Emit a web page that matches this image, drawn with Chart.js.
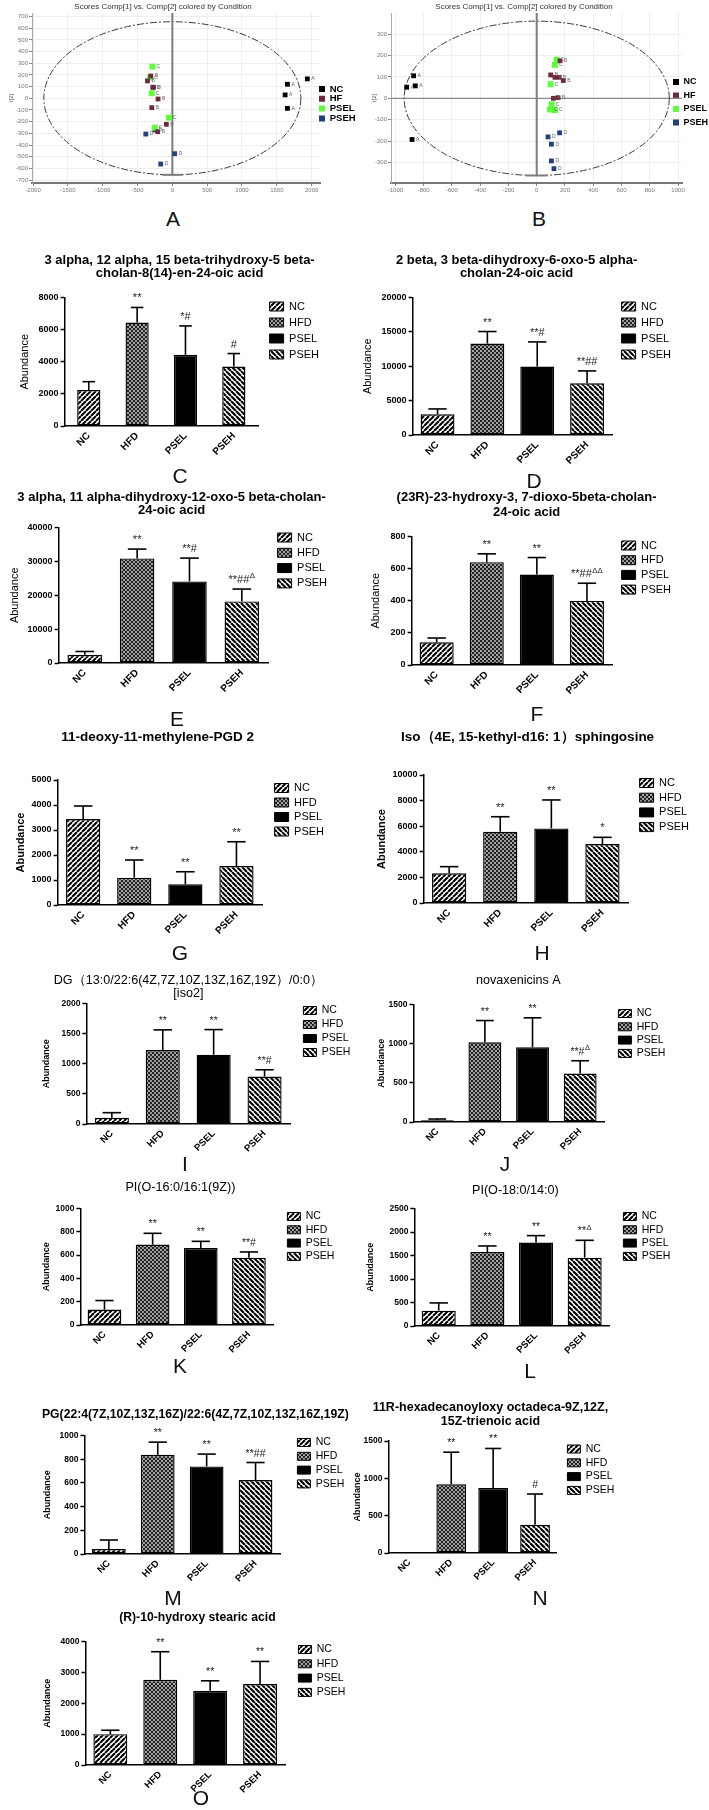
<!DOCTYPE html>
<html><head><meta charset="utf-8">
<script src="https://cdn.jsdelivr.net/npm/chart.js@4.4.1/dist/chart.umd.min.js"></script>
<style>
html,body{margin:0;padding:0;background:#fff;}
body{width:709px;height:1810px;position:relative;overflow:hidden;font-family:"Liberation Sans",Arial,sans-serif;}
canvas{position:absolute;}
.lt{position:absolute;width:40px;text-align:center;font-size:21px;line-height:21px;color:#111;font-family:"Liberation Sans",Arial,sans-serif;}
</style></head><body>
<script>
// ================= DATA =================
const groups = ['NC', 'HFD', 'PSEL', 'PSEH'];
const scoreGroups = ['NC', 'HF', 'PSEL', 'PSEH'];
const scoreTags = ['A', 'B', 'C', 'D'];
const scoreTitle = 'Scores Comp[1] vs. Comp[2] colored by Condition';

// Panel A score plot (t[1], t[2])
const aNC   = [[1652,120],[1619,29],[1652,-86],[1938,166]];
const aHF   = [[-310,191],[-357,149],[-281,94],[-205,-6],[-295,-80],[-86,-223],[-210,-286]];
const aPSEL = [[-286,271],[-319,177],[-295,43],[-48,-166],[-252,-251]];
const aPSEH = [[-271,94],[-381,-306],[-252,-271],[33,-474],[-167,-563]];
const aXTicks = [-2000,-1500,-1000,-500,0,500,1000,1500,2000];
const aYTicks = [-700,-600,-500,-400,-300,-200,-100,0,100,200,300,400,500,600,700];
const aEllipse = [1845, 655];

// Panel B score plot
const bNC   = [[-871,105],[-859,58],[-920,52],[-882,-192]];
const bHF   = [[165,175],[99,109],[129,98],[158,98],[188,83],[118,0],[151,3]];
const bPSEL = [[141,180],[129,156],[99,66],[106,-28],[94,-52],[129,-55]];
const bPSEH = [[162,-161],[80,-180],[104,-214],[104,-292],[122,-328]];
const bXTicks = [-1000,-800,-600,-400,-200,0,200,400,600,800,1000];
const bYTicks = [-300,-200,-100,0,100,200,300];
const bEllipse = [938, 360];

// Bar panels: mean, SD, significance marks, y ticks
const cTitle = ['3 alpha, 12 alpha, 15 beta-trihydroxy-5 beta-', 'cholan-8(14)-en-24-oic acid'];
const cMean = [2240, 6440, 4430, 3700];
const cSD   = [520, 940, 1800, 810];
const cSig  = ['', '**', '*#', '#'];
const cTicks = [0, 2000, 4000, 6000, 8000];

const dTitle = ['2 beta, 3 beta-dihydroxy-6-oxo-5 alpha-', 'cholan-24-oic acid'];
const dMean = [3010, 13300, 9950, 7520];
const dSD   = [780, 1750, 3590, 1800];
const dSig  = ['', '**', '**#', '**##'];
const dTicks = [0, 5000, 10000, 15000, 20000];

const eTitle = ['3 alpha, 11 alpha-dihydroxy-12-oxo-5 beta-cholan-', '24-oic acid'];
const eMean = [2400, 30880, 24090, 18190];
const eSD   = [1000, 2750, 6880, 3640];
const eSig  = ['', '**', '**#', '**##^Δ'];
const eTicks = [0, 10000, 20000, 30000, 40000];

const fTitle = ['(23R)-23-hydroxy-3, 7-dioxo-5beta-cholan-', '24-oic acid'];
const fMean = [141, 640, 563, 399];
const fSD   = [27, 52, 106, 110];
const fSig  = ['', '**', '**', '**##^ΔΔ'];
const fTicks = [0, 200, 400, 600, 800];

const gTitle = ['11-deoxy-11-methylene-PGD 2'];
const gMean = [3440, 1090, 826, 1560];
const gSD   = [520, 710, 504, 970];
const gSig  = ['', '**', '**', '**'];
const gTicks = [0, 1000, 2000, 3000, 4000, 5000];

const hTitle = ['Iso（4E, 15-kethyl-d16: 1）sphingosine'];
const hMean = [2320, 5570, 5830, 4610];
const hSD   = [520, 1170, 2220, 520];
const hSig  = ['', '**', '**', '*'];
const hTicks = [0, 2000, 4000, 6000, 8000, 10000];

const iTitle = ['DG（13:0/22:6(4Z,7Z,10Z,13Z,16Z,19Z）/0:0）', '[iso2]'];
const iMean = [105, 1228, 1150, 788];
const iSD   = [83, 334, 417, 112];
const iSig  = ['', '**', '**', '**#'];
const iTicks = [0, 500, 1000, 1500, 2000];

const jTitle = ['novaxenicins A'];
const jMean = [22, 1017, 953, 619];
const jSD   = [16, 278, 377, 163];
const jSig  = ['', '**', '**', '**#^Δ'];
const jTicks = [0, 500, 1000, 1500];

const kTitle = ['PI(O-16:0/16:1(9Z))'];
const kMean = [132, 690, 661, 578];
const kSD   = [78, 97, 57, 49];
const kSig  = ['', '**', '**', '**#'];
const kTicks = [0, 200, 400, 600, 800, 1000];

const lTitle = ['PI(O-18:0/14:0)'];
const lMean = [327, 1575, 1774, 1453];
const lSD   = [164, 128, 149, 370];
const lSig  = ['', '**', '**', '**^Δ'];
const lTicks = [0, 500, 1000, 1500, 2000, 2500];

const mTitle = ['PG(22:4(7Z,10Z,13Z,16Z)/22:6(4Z,7Z,10Z,13Z,16Z,19Z)'];
const mMean = [42, 837, 739, 624];
const mSD   = [76, 107, 104, 148];
const mSig  = ['', '**', '**', '**##'];
const mTicks = [0, 200, 400, 600, 800, 1000];

const nTitle = ['11R-hexadecanoyloxy octadeca-9Z,12Z,', '15Z-trienoic acid'];
const nMean = [0, 920, 870, 380];
const nSD   = [0, 430, 530, 410];
const nSig  = ['', '**', '**', '#'];
const nTicks = [0, 500, 1000, 1500];

const oTitle = ['(R)-10-hydroxy stearic acid'];
const oMean = [997, 2760, 2402, 2620];
const oSD   = [129, 909, 325, 734];
const oSig  = ['', '**', '**', '**'];
const oTicks = [0, 1000, 2000, 3000, 4000];

// ================= STYLE / LAYOUT =================
const FONT = '"Liberation Sans", Arial, sans-serif';
const scoreColors = ['#000000', '#6e2a3a', '#5dff3c', '#233f7c'];

function makePattern(kind) {
  if (kind === 'solid') return '#000000';
  const s = kind === 'cross' ? 4 : 5;
  const c = document.createElement('canvas'); c.width = s; c.height = s;
  const g = c.getContext('2d');
  g.fillStyle = '#ffffff'; g.fillRect(0, 0, s, s);
  g.strokeStyle = '#000000';
  const fwd = () => { g.beginPath(); for (let k = -1; k <= 1; k++) { g.moveTo(k * s, s); g.lineTo(k * s + s, 0); } g.stroke(); };
  const back = () => { g.beginPath(); for (let k = -1; k <= 1; k++) { g.moveTo(k * s, 0); g.lineTo(k * s + s, s); } g.stroke(); };
  if (kind === 'fwd') { g.lineWidth = 2.1; fwd(); }
  if (kind === 'back') { g.lineWidth = 2.1; back(); }
  if (kind === 'cross') { g.strokeStyle = '#222'; g.lineWidth = 1.25; fwd(); back(); }
  return g.createPattern(c, 'repeat');
}
const fills = [makePattern('fwd'), makePattern('cross'), makePattern('solid'), makePattern('back')];

const styles = {
  1: { yTitle: { size: 11, weight: 'normal' }, tick: 9, xlab: 10, leg: 11, box: [14, 9], sig: 11 },
  2: { yTitle: { size: 11, weight: 'bold' }, tick: 9, xlab: 10, leg: 11, box: [14, 9], sig: 11 },
  3: { yTitle: { size: 9, weight: 'bold' }, tick: 8.5, xlab: 9.5, leg: 10.5, box: [13, 8], sig: 10.5 }
};

const panels = [
  { title: cTitle, mean: cMean, sd: cSD, sig: cSig, ticks: cTicks, L: { axisX: 65, axisR: 258, top: 297, bottom: 425, tX: 180, tY: 260, lineH: 13, tSize: 13, tW: 'bold', legX: 270, legY: 306, legDy: 16, yTX: 25, barPct: 0.48, letter: 'C', lX: 180, lY: 475, style: 1 } },
  { title: dTitle, mean: dMean, sd: dSD, sig: dSig, ticks: dTicks, L: { axisX: 413, axisR: 612, top: 297, bottom: 434, tX: 517, tY: 260, lineH: 13, tSize: 13, tW: 'bold', legX: 622, legY: 306, legDy: 16, yTX: 368, barPct: 0.68, letter: 'D', lX: 534, lY: 480, style: 1 } },
  { title: eTitle, mean: eMean, sd: eSD, sig: eSig, ticks: eTicks, L: { axisX: 59, axisR: 268, top: 527, bottom: 662, tX: 172, tY: 497, lineH: 13, tSize: 13, tW: 'bold', legX: 278, legY: 537, legDy: 15.3, yTX: 15, barPct: 0.66, letter: 'E', lX: 177, lY: 718, style: 1 } },
  { title: fTitle, mean: fMean, sd: fSD, sig: fSig, ticks: fTicks, L: { axisX: 412, axisR: 612, top: 536, bottom: 664, tX: 527, tY: 497, lineH: 15, tSize: 13, tW: 'bold', legX: 622, legY: 545, legDy: 14.7, yTX: 376, barPct: 0.68, letter: 'F', lX: 537, lY: 713, style: 1 } },
  { title: gTitle, mean: gMean, sd: gSD, sig: gSig, ticks: gTicks, L: { axisX: 58, axisR: 262, top: 780, bottom: 905, tX: 158, tY: 737, lineH: 14, tSize: 13.5, tW: 'bold', legX: 275, legY: 788, legDy: 14.5, yTX: 21, barPct: 0.67, letter: 'G', lX: 180, lY: 952, style: 2 } },
  { title: hTitle, mean: hMean, sd: hSD, sig: hSig, ticks: hTicks, L: { axisX: 424, axisR: 628, top: 775, bottom: 903, tX: 528, tY: 737, lineH: 14, tSize: 13.5, tW: 'bold', legX: 640, legY: 783, legDy: 14.7, yTX: 382, barPct: 0.67, letter: 'H', lX: 542, lY: 952, style: 2 } },
  { title: iTitle, mean: iMean, sd: iSD, sig: iSig, ticks: iTicks, L: { axisX: 86, axisR: 290, top: 1003, bottom: 1123, tX: 188, tY: 980, lineH: 13, tSize: 12.6, tW: 'normal', legX: 303, legY: 1010, legDy: 14, yTX: 46, barPct: 0.67, letter: 'I', lX: 185, lY: 1163, style: 3 } },
  { title: jTitle, mean: jMean, sd: jSD, sig: jSig, ticks: jTicks, L: { axisX: 413, axisR: 604, top: 1004, bottom: 1121, tX: 518, tY: 980, lineH: 13, tSize: 12.6, tW: 'normal', legX: 618, legY: 1013, legDy: 13.3, yTX: 381, barPct: 0.69, letter: 'J', lX: 505, lY: 1163, style: 3 } },
  { title: kTitle, mean: kMean, sd: kSD, sig: kSig, ticks: kTicks, L: { axisX: 80, axisR: 273, top: 1208, bottom: 1324, tX: 180, tY: 1187, lineH: 13, tSize: 12.6, tW: 'normal', legX: 287, legY: 1216, legDy: 13.3, yTX: 46, barPct: 0.7, letter: 'K', lX: 180, lY: 1365, style: 3 } },
  { title: lTitle, mean: lMean, sd: lSD, sig: lSig, ticks: lTicks, L: { axisX: 414, axisR: 609, top: 1208, bottom: 1325, tX: 515, tY: 1190, lineH: 13, tSize: 12.6, tW: 'normal', legX: 623, legY: 1216, legDy: 13.3, yTX: 370, barPct: 0.7, letter: 'L', lX: 530, lY: 1370, style: 3 } },
  { title: mTitle, mean: mMean, sd: mSD, sig: mSig, ticks: mTicks, L: { axisX: 84, axisR: 280, top: 1435, bottom: 1553, tX: 195, tY: 1414, lineH: 13, tSize: 12.2, tW: 'bold', legX: 297, legY: 1442, legDy: 13.8, yTX: 47, barPct: 0.69, letter: 'M', lX: 173, lY: 1597, style: 3 } },
  { title: nTitle, mean: nMean, sd: nSD, sig: nSig, ticks: nTicks, L: { axisX: 388, axisR: 556, top: 1441, bottom: 1553, tX: 490, tY: 1408, lineH: 14, tSize: 12.5, tW: 'bold', legX: 567, legY: 1449, legDy: 13.8, yTX: 357, barPct: 0.71, letter: 'N', lX: 540, lY: 1597, style: 3 } },
  { title: oTitle, mean: oMean, sd: oSD, sig: oSig, ticks: oTicks, L: { axisX: 85, axisR: 285, top: 1641, bottom: 1764, tX: 197, tY: 1617, lineH: 13, tSize: 12.2, tW: 'bold', legX: 298, legY: 1649, legDy: 14.3, yTX: 47, barPct: 0.68, letter: 'O', lX: 201, lY: 1797, style: 3 } }
];

function addLetter(t, x, y) {
  const d = document.createElement('div');
  d.className = 'lt'; d.textContent = t;
  d.style.left = (x - 20) + 'px'; d.style.top = (y - 10) + 'px';
  document.body.appendChild(d);
}

function addCanvas(left, top, w, h) {
  const cv = document.createElement('canvas');
  cv.width = Math.round(w); cv.height = Math.round(h);
  cv.style.left = left + 'px'; cv.style.top = top + 'px';
  cv.style.width = Math.round(w) + 'px'; cv.style.height = Math.round(h) + 'px';
  document.body.appendChild(cv);
  return cv;
}

function drawSig(ctx, s, x, yBase, size) {
  if (!s) return;
  const parts = s.split('^');
  const ss = size * 0.72;
  ctx.font = size + 'px ' + FONT;
  const w0 = ctx.measureText(parts[0]).width;
  let w1 = 0;
  if (parts[1]) { ctx.font = ss + 'px ' + FONT; w1 = ctx.measureText(parts[1]).width + 0.5; }
  const left = x - (w0 + w1) / 2;
  ctx.textAlign = 'left'; ctx.textBaseline = 'alphabetic'; ctx.fillStyle = '#222';
  ctx.font = size + 'px ' + FONT;
  ctx.fillText(parts[0], left, yBase);
  if (parts[1]) { ctx.font = ss + 'px ' + FONT; ctx.fillText(parts[1], left + w0 + 0.5, yBase - size * 0.42); }
}

function barPanel(p) {
  const L = p.L, st = styles[L.style];
  const yMax = p.ticks[p.ticks.length - 1], yStep = p.ticks[1] - p.ticks[0];
  const lineH = L.lineH, titleH = p.title.length * lineH;
  const canvasTop = L.tY - lineH / 2 - 3;
  const padT = L.top - canvasTop - titleH;
  const yTitleLH = st.yTitle.size * 1.2;
  const Wy = L.axisX - L.yTX + yTitleLH / 2;
  const padL = 2, legendW = 10, padR = 72, Hx = 40;
  const canvasLeft = L.axisX - Wy - padL;
  const W = L.axisR - canvasLeft + legendW + padR;
  const H = L.bottom - canvasTop + Hx;
  const cv = addCanvas(canvasLeft, canvasTop, W, H);
  const legPad = L.legDy - st.leg;

  const placer = {
    id: 'placer',
    afterLayout(chart) {
      const tb = chart.titleBlock;
      if (tb) {
        tb.left = L.tX - canvasLeft - 400; tb.right = tb.left + 800;
        tb.top = L.tY - canvasTop - lineH / 2; tb.bottom = tb.top + titleH;
      }
      const lg = chart.legend;
      if (lg) {
        lg.left = L.legX - canvasLeft - legPad; lg.right = lg.left + 120;
        lg.top = L.legY - canvasTop - legPad - st.leg / 2; lg.bottom = lg.top + 600;
      }
    }
  };
  const errbars = {
    id: 'errbars',
    afterDatasetsDraw(chart) {
      const ctx = chart.ctx, ys = chart.scales.y;
      const meta = chart.getDatasetMeta(0);
      ctx.save();
      meta.data.forEach((bar, i) => {
        const v = p.mean[i], e = p.sd[i];
        const x = bar.x;
        const yErr = ys.getPixelForValue(v + e);
        if (e > 0) {
          ctx.strokeStyle = '#000'; ctx.lineWidth = 1.6; ctx.lineCap = 'butt';
          ctx.beginPath(); ctx.moveTo(x, bar.y); ctx.lineTo(x, yErr); ctx.stroke();
          const hw = bar.width * 0.27;
          ctx.beginPath(); ctx.moveTo(x - hw, yErr); ctx.lineTo(x + hw, yErr); ctx.stroke();
        }
        drawSig(ctx, p.sig[i], x, yErr - 6, st.sig);
      });
      ctx.restore();
    }
  };

  new Chart(cv, {
    type: 'bar',
    data: {
      labels: groups,
      datasets: [{
        data: p.mean, backgroundColor: fills, borderColor: '#000', borderWidth: 1.4,
        borderSkipped: false, barPercentage: L.barPct, categoryPercentage: 1
      }]
    },
    options: {
      responsive: false, animation: false, devicePixelRatio: 1,
      layout: { padding: { left: padL, right: padR, top: padT, bottom: 0 } },
      plugins: {
        title: { display: true, text: p.title, color: '#000', padding: 0, font: { family: FONT, size: L.tSize, weight: L.tW, lineHeight: lineH + 'px' } },
        legend: {
          position: 'right', align: 'start', fullSize: false, maxWidth: legendW,
          labels: {
            boxWidth: st.box[0], boxHeight: st.box[1], padding: legPad, color: '#000',
            font: { family: FONT, size: st.leg, weight: 'normal' },
            generateLabels: () => groups.map((g, i) => ({ text: g, fillStyle: fills[i], strokeStyle: '#000', lineWidth: 1, hidden: false, index: i, datasetIndex: 0, fontColor: '#000' }))
          }
        },
        tooltip: { enabled: false }
      },
      scales: {
        x: {
          grid: { display: true, drawOnChartArea: false, drawTicks: false },
          border: { color: '#000', width: 1.5 },
          ticks: { minRotation: 45, maxRotation: 45, color: '#000', padding: 4, font: { family: FONT, size: st.xlab, weight: 'bold' } },
          afterFit: s => { s.height = Hx; }
        },
        y: {
          min: 0, max: yMax,
          ticks: { stepSize: yStep, color: '#000', padding: 2, font: { family: FONT, size: st.tick, weight: 'bold' }, callback: v => String(v) },
          grid: { drawOnChartArea: false, tickLength: 4, tickColor: '#000', tickWidth: 1.5 },
          border: { color: '#000', width: 1.5 },
          title: { display: true, text: 'Abundance', color: '#000', padding: 0, font: { family: FONT, size: st.yTitle.size, weight: st.yTitle.weight, lineHeight: 1.2 } },
          afterFit: s => { s.width = Wy; }
        }
      }
    },
    plugins: [placer, errbars]
  });
  addLetter(L.letter, L.lX, L.lY);
}

function scorePanel(q) {
  const tSize = 8, lineH = 9.6;
  const canvasLeft = q.canvasLeft, canvasTop = 0;
  const padL = q.axisX - canvasLeft - q.Wy;
  const padT = q.top - canvasTop - lineH;
  const legendW = 10, padR = 40, Hx = 12;
  const W = q.axisR - canvasLeft + legendW + padR;
  const H = q.bottom - canvasTop + Hx;
  const cv = addCanvas(canvasLeft, canvasTop, W, H);
  const legFont = q.legFont, legPad = q.legDy - legFont;
  const xMin = q.xRange[0], xMax = q.xRange[1], yMin = q.yRange[0], yMax = q.yRange[1];

  const placer = {
    id: 'placer',
    afterLayout(chart) {
      const tb = chart.titleBlock;
      if (tb) { tb.left = q.tX - canvasLeft - 300; tb.right = tb.left + 600; tb.top = q.tY - canvasTop - lineH / 2; tb.bottom = tb.top + lineH; }
      const lg = chart.legend;
      if (lg) { lg.left = q.legX - canvasLeft - legPad; lg.right = lg.left + 80; lg.top = q.legY - canvasTop - legPad - legFont / 2; lg.bottom = lg.top + 300; }
    }
  };
  const decor = {
    id: 'decor',
    beforeDatasetsDraw(chart) {
      const { ctx, chartArea: ca, scales: { x, y } } = chart;
      const x0 = x.getPixelForValue(0), y0 = y.getPixelForValue(0);
      ctx.save();
      if (q.hZero) {
        ctx.strokeStyle = '#8a8a8a'; ctx.lineWidth = 1.3;
        ctx.beginPath(); ctx.moveTo(ca.left, y0); ctx.lineTo(ca.right, y0); ctx.stroke();
      }
      const rx = Math.abs(x.getPixelForValue(q.ellipse[0]) - x0);
      const ry = Math.abs(y.getPixelForValue(q.ellipse[1]) - y0);
      ctx.strokeStyle = '#3a3a3a'; ctx.lineWidth = 1; ctx.setLineDash([7, 2, 2, 2]);
      ctx.beginPath(); ctx.ellipse(x0, y0, rx, ry, 0, 0, Math.PI * 2); ctx.stroke();
      ctx.setLineDash([]);
      const yb = y.getPixelForValue(-q.ellipse[1]);
      ctx.strokeStyle = '#7d7d7d'; ctx.lineWidth = 2;
      ctx.beginPath(); ctx.moveTo(x0, ca.top); ctx.lineTo(x0, yb); ctx.stroke();
      ctx.beginPath(); ctx.moveTo(x.getPixelForValue(-q.seg), yb); ctx.lineTo(x.getPixelForValue(q.seg), yb); ctx.stroke();
      ctx.restore();
    },
    afterDatasetsDraw(chart) {
      const ctx = chart.ctx;
      ctx.save();
      ctx.font = '5px ' + FONT; ctx.fillStyle = '#666'; ctx.textBaseline = 'middle'; ctx.textAlign = 'left';
      chart.data.datasets.forEach((ds, di) => {
        chart.getDatasetMeta(di).data.forEach(pt => { ctx.fillText(scoreTags[di], pt.x + 4, pt.y); });
      });
      ctx.restore();
    }
  };
  const tickFont = { family: FONT, size: 6 };
  new Chart(cv, {
    type: 'scatter',
    data: {
      datasets: q.sets.map((arr, i) => ({
        label: scoreGroups[i], data: arr.map(([x, y]) => ({ x, y })),
        backgroundColor: scoreColors[i], borderColor: scoreColors[i], borderWidth: 0,
        pointStyle: 'rect', pointRadius: i === 2 ? 4.2 : 3.4
      }))
    },
    options: {
      responsive: false, animation: false, devicePixelRatio: 1,
      layout: { padding: { left: padL, right: padR, top: padT, bottom: 0 } },
      plugins: {
        title: { display: true, text: scoreTitle, color: '#333', padding: 0, font: { family: FONT, size: tSize, weight: 'normal', lineHeight: lineH + 'px' } },
        legend: {
          position: 'right', align: 'start', fullSize: false, maxWidth: legendW,
          labels: { boxWidth: q.legBox, boxHeight: q.legBox, padding: legPad, color: '#000', font: { family: FONT, size: legFont, weight: 'bold' } }
        },
        tooltip: { enabled: false }
      },
      scales: {
        x: {
          type: 'linear', min: xMin, max: xMax,
          afterBuildTicks: s => { s.ticks = q.xTicks.map(v => ({ value: v })); },
          ticks: { color: '#777', padding: 1, maxRotation: 0, font: tickFont, callback: v => String(v) },
          grid: { color: '#eeeeee', tickColor: '#888', tickLength: 3 },
          border: { color: '#777', width: 2 },
          afterFit: s => { s.height = Hx; }
        },
        y: {
          min: yMin, max: yMax,
          afterBuildTicks: s => { s.ticks = q.yTicks.map(v => ({ value: v })); },
          ticks: { color: '#777', padding: 1, font: tickFont, autoSkip: false, callback: v => String(v) },
          grid: { color: '#eeeeee', tickColor: '#888', tickLength: 3 },
          border: { color: '#aaa', width: 1 },
          title: { display: true, text: 't[2]', color: '#555', padding: 0, font: { family: FONT, size: 6, lineHeight: 1.2 } },
          afterFit: s => { s.width = q.Wy; }
        }
      }
    },
    plugins: [placer, decor]
  });
  addLetter(q.letter, q.lX, q.lY);
}

scorePanel({
  sets: [aNC, aHF, aPSEL, aPSEH], xTicks: aXTicks, yTicks: aYTicks, ellipse: aEllipse,
  xRange: [-2015, 2120], yRange: [-725, 730], seg: 150, hZero: false,
  canvasLeft: 0, Wy: 24, axisX: 32, axisR: 320, top: 13, bottom: 183,
  tX: 163, tY: 7, legX: 319, legY: 89, legDy: 9.8, legFont: 9.5, legBox: 6,
  letter: 'A', lX: 173, lY: 218
});
scorePanel({
  sets: [bNC, bHF, bPSEL, bPSEH], xTicks: bXTicks, yTicks: bYTicks, ellipse: bEllipse,
  xRange: [-1031, 1028], yRange: [-395, 398], seg: 78, hZero: true,
  canvasLeft: 354, Wy: 20, axisX: 391, axisR: 682, top: 13, bottom: 183,
  tX: 524, tY: 7, legX: 673, legY: 82, legDy: 13.5, legFont: 9, legBox: 6,
  letter: 'B', lX: 539, lY: 218
});
panels.forEach(barPanel);
</script>
</body></html>
